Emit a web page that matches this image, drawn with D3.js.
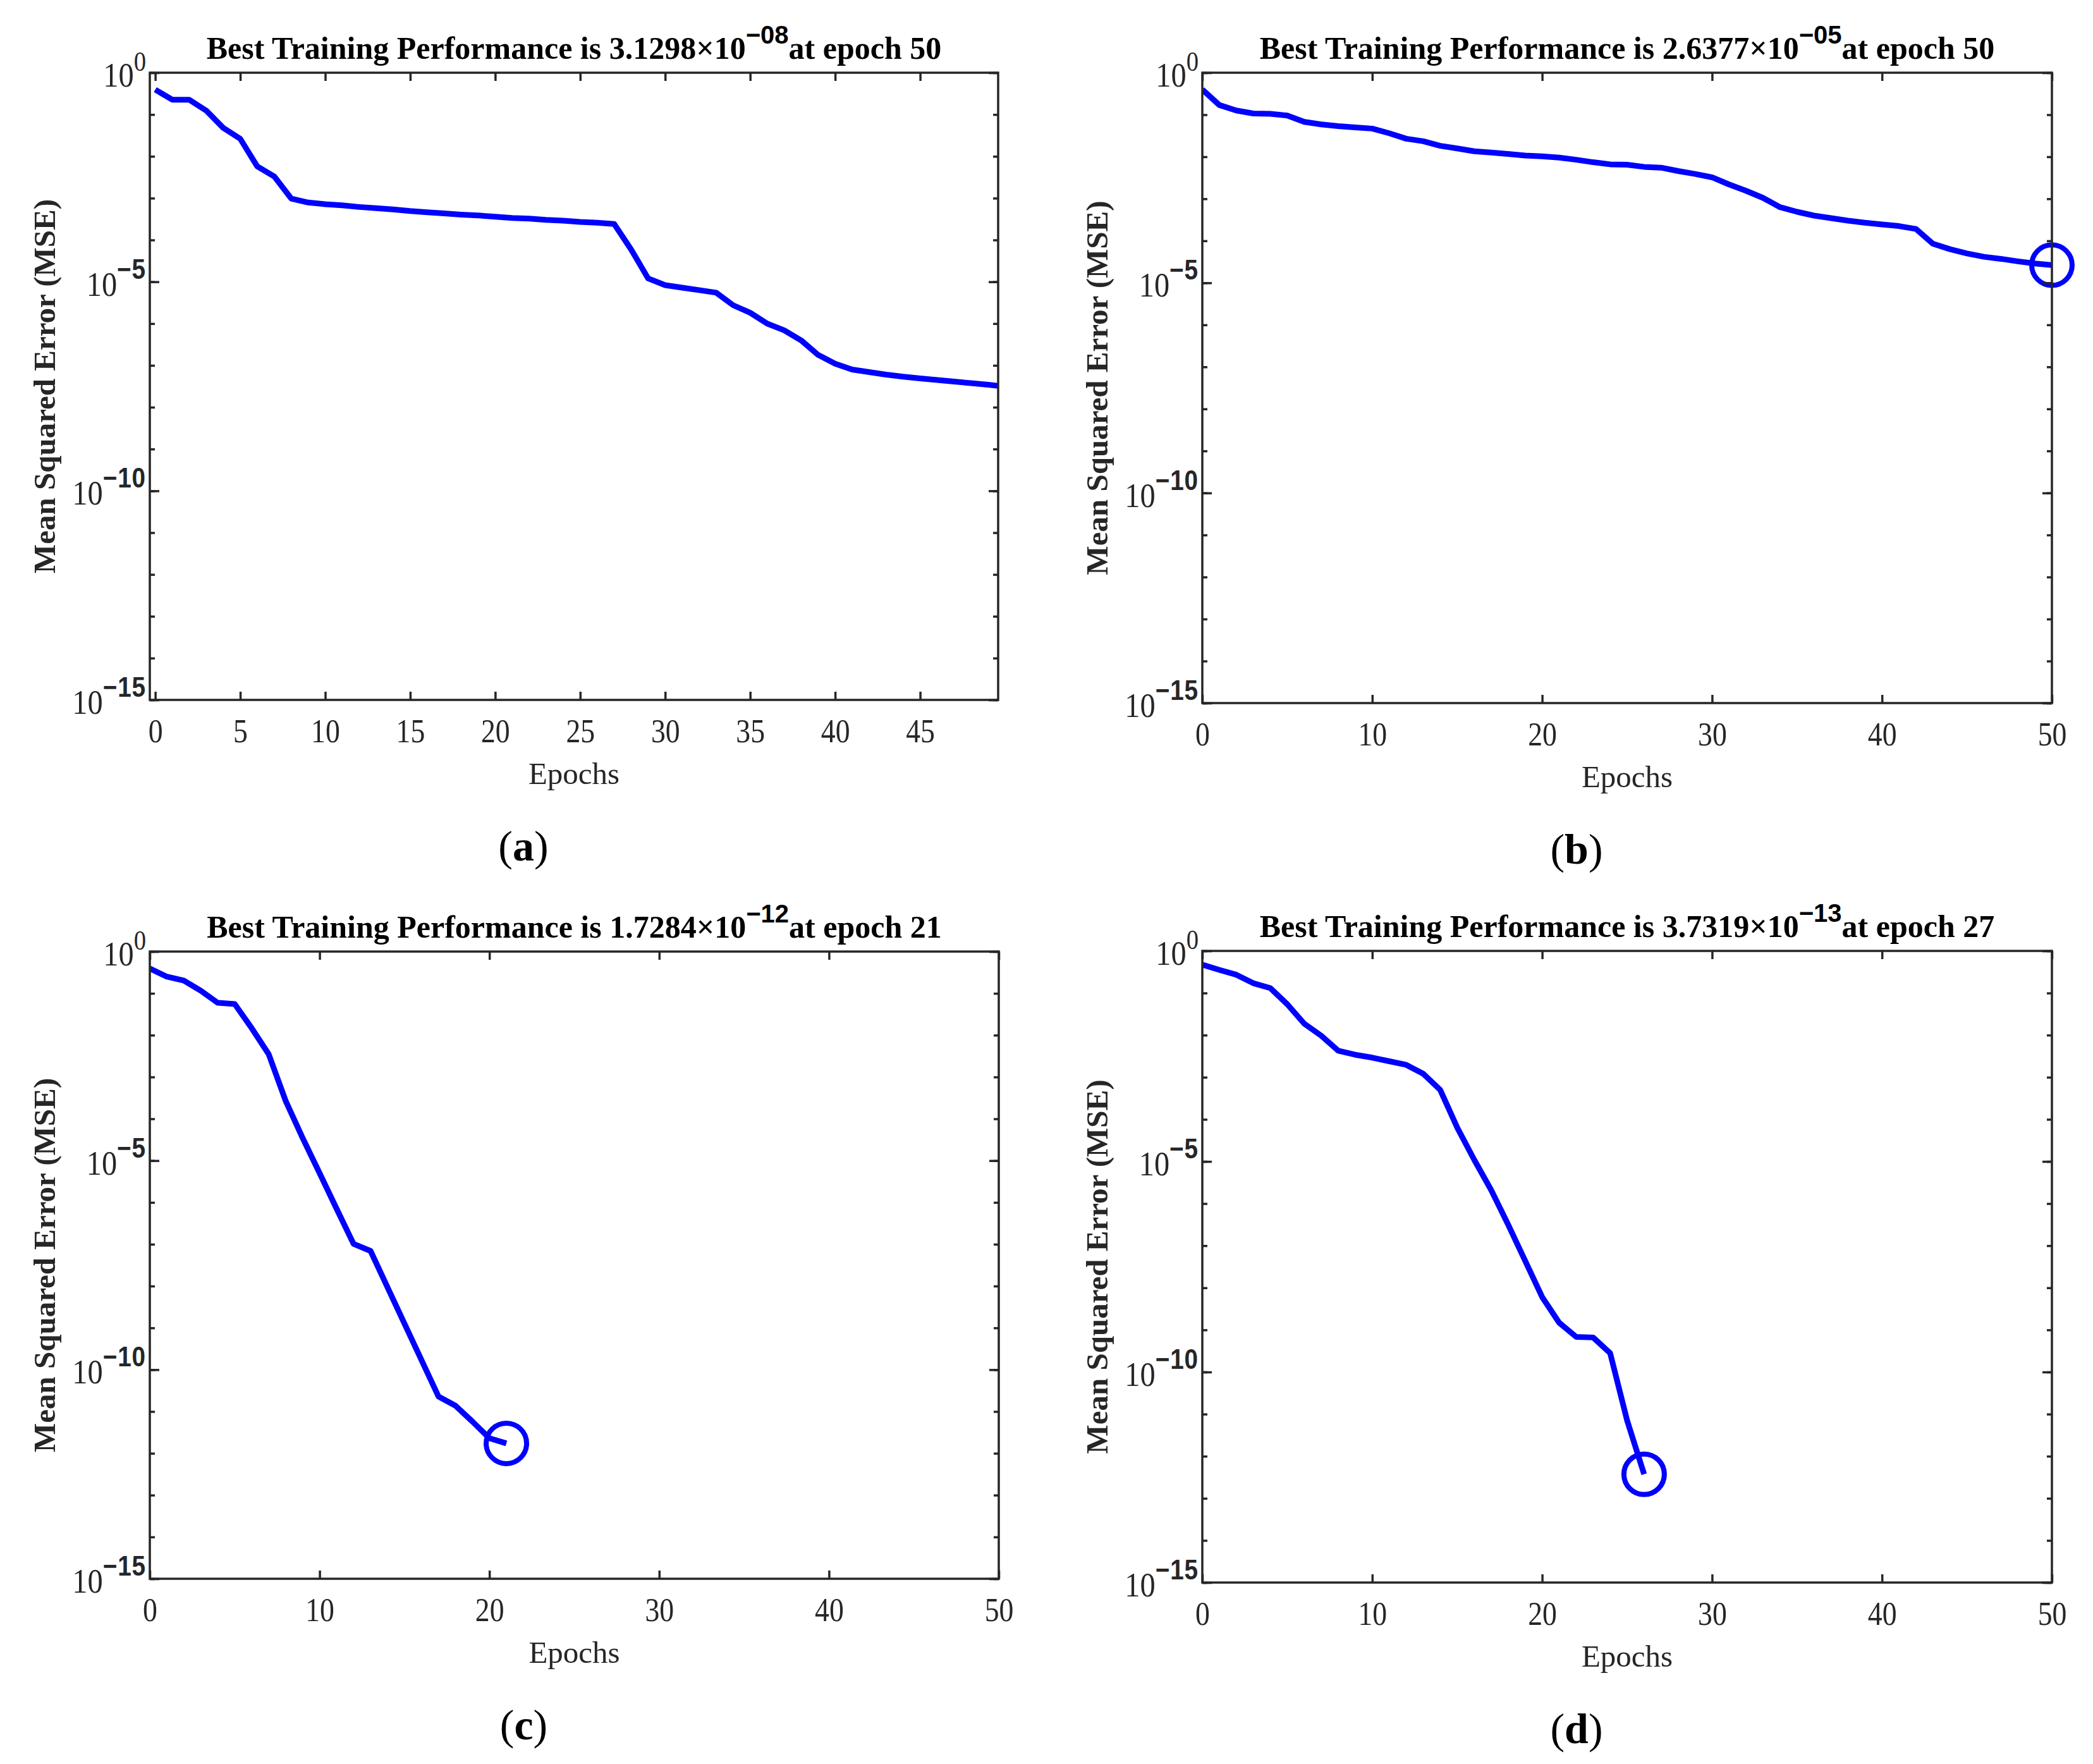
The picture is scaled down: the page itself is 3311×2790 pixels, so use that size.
<!DOCTYPE html>
<html>
<head>
<meta charset="utf-8">
<script src="https://cdn.jsdelivr.net/npm/d3@7"></script>
<style>
  html, body { margin: 0; padding: 0; background: #ffffff; }
  svg { display: block; }
</style>
</head>
<body>
<svg id="fig" width="3311" height="2790"></svg>
<script>
// ---------------- DATA ----------------
const panelLetters = ["a", "b", "c", "d"];
const bestPerf = [3.1298e-8, 2.6377e-5, 1.7284e-12, 3.7319e-13];
const bestEpoch = [50, 50, 21, 27];
const showMarker = [false, true, true, true];

// MSE per epoch (index = epoch)
const mseA = [0.394, 0.226, 0.226, 0.124, 0.0479, 0.0263, 0.00575, 0.00331, 9.77e-4, 7.85e-4,
  7.18e-4, 6.71e-4, 6.15e-4, 5.75e-4, 5.38e-4, 4.92e-4, 4.60e-4, 4.32e-4, 4.04e-4, 3.85e-4,
  3.61e-4, 3.37e-4, 3.23e-4, 3.02e-4, 2.89e-4, 2.70e-4, 2.59e-4, 2.42e-4, 5.89e-5, 1.20e-5,
  8.32e-6, 7.24e-6, 6.31e-6, 5.50e-6, 2.75e-6, 1.82e-6, 1.0e-6, 6.92e-7, 3.98e-7, 1.78e-7,
  1.10e-7, 7.94e-8, 6.92e-8, 6.03e-8, 5.37e-8, 4.90e-8, 4.49e-8, 4.10e-8, 3.76e-8, 3.44e-8,
  3.1298e-8];
const mseB = [0.398, 0.170, 0.126, 0.107, 0.105, 0.0955, 0.0676, 0.0589, 0.0537, 0.0501,
  0.0468, 0.0363, 0.0269, 0.0234, 0.0182, 0.0158, 0.0135, 0.0126, 0.0117, 0.0107,
  0.0102, 0.00955, 0.00851, 0.00741, 0.00661, 0.00646, 0.00575, 0.00550, 0.00457, 0.00389,
  0.00324, 0.00219, 0.00155, 0.00105, 6.31e-4, 4.90e-4, 3.98e-4, 3.47e-4, 3.02e-4, 2.69e-4,
  2.45e-4, 2.24e-4, 1.91e-4, 8.51e-5, 6.31e-5, 5.01e-5, 4.17e-5, 3.72e-5, 3.24e-5, 2.88e-5,
  2.6377e-5];
const mseC = [0.394, 0.251, 0.202, 0.116, 0.0594, 0.0556, 0.0147, 0.00353, 2.69e-4, 3.47e-5,
  5.01e-6, 7.08e-7, 1.02e-7, 6.92e-8, 9.33e-9, 1.26e-9, 1.70e-10, 2.29e-11, 1.38e-11, 5.75e-12,
  2.29e-12, 1.7284e-12];
const mseD = [0.472, 0.355, 0.272, 0.171, 0.131, 0.0541, 0.0187, 0.00966, 0.00427, 0.00342,
  0.00292, 0.00240, 0.00197, 0.00121, 5.01e-4, 6.40e-5, 1.10e-5, 2.09e-6, 3.16e-7, 4.37e-8,
  6.03e-9, 1.48e-9, 6.84e-10, 6.61e-10, 2.82e-10, 7.08e-12, 3.7319e-13];
const series = [mseA, mseB, mseC, mseD];

// axis settings
const xDomains = [[-0.32, 49.59], [0, 50], [0, 50], [0, 50]];
const xTicksA = [0, 5, 10, 15, 20, 25, 30, 35, 40, 45];
const xTicksOther = [0, 10, 20, 30, 40, 50];
const yMajorExp = [0, -5, -10, -15];
const yMinorExp = d3.range(0, -16, -1);

// ---------------- LAYOUT ----------------
const boxes = [
  {l: 237, r: 1579, t: 115, b: 1107},
  {l: 1902, r: 3246, t: 115, b: 1112},
  {l: 237, r: 1580, t: 1505, b: 2497},
  {l: 1902, r: 3246, t: 1504, b: 2503}
];

const axisColor = "#262626";
const lineColor = "#0000ff";
const serif = "'Liberation Serif', 'Times New Roman', serif";
const sans = "'Liberation Sans', Arial, sans-serif";

const svg = d3.select("#fig");

function superMinus(n) {
  return (n < 0 ? "\u2212" : "") + Math.abs(n);
}

boxes.forEach((bx, i) => {
  const data = series[i];
  const x = d3.scaleLinear().domain(xDomains[i]).range([bx.l, bx.r]);
  const y = d3.scaleLog().domain([1e-15, 1]).range([bx.b, bx.t]);
  const g = svg.append("g");
  const xt = i === 0 ? xTicksA : xTicksOther;
  const cx = (bx.l + bx.r) / 2, cy = (bx.t + bx.b) / 2;

  // clip (line only)
  const clipId = "clip" + i;
  svg.append("defs").append("clipPath").attr("id", clipId)
    .append("rect").attr("x", bx.l).attr("y", bx.t)
    .attr("width", bx.r - bx.l).attr("height", bx.b - bx.t);

  // line
  const line = d3.line().x((d, k) => x(k)).y(d => y(d));
  g.append("path").datum(data)
    .attr("clip-path", `url(#${clipId})`)
    .attr("d", line)
    .attr("fill", "none").attr("stroke", lineColor)
    .attr("stroke-width", 9).attr("stroke-linejoin", "round");

  if (showMarker[i]) {
    const last = data.length - 1;
    g.append("circle")
      .attr("cx", x(last)).attr("cy", y(data[last]))
      .attr("r", 32).attr("fill", "none")
      .attr("stroke", lineColor).attr("stroke-width", 8);
  }

  // axes: bottom
  const gx = g.append("g").attr("transform", `translate(0,${bx.b})`)
    .call(d3.axisBottom(x).tickValues(xt).tickSizeInner(-13).tickSizeOuter(0).tickPadding(0).tickFormat(d3.format("d")));
  const gxTop = g.append("g").attr("transform", `translate(0,${bx.t})`)
    .call(d3.axisTop(x).tickValues(xt).tickSizeInner(-13).tickSizeOuter(0).tickFormat(""));
  // left minor + major
  const gyMin = g.append("g").attr("transform", `translate(${bx.l},0)`)
    .call(d3.axisLeft(y).tickValues(yMinorExp.map(e => Math.pow(10, e))).tickSizeInner(-8).tickSizeOuter(0).tickFormat(""));
  const gyMaj = g.append("g").attr("transform", `translate(${bx.l},0)`)
    .call(d3.axisLeft(y).tickValues(yMajorExp.map(e => Math.pow(10, e))).tickSizeInner(-15).tickSizeOuter(0).tickPadding(0).tickFormat(""));
  const gyMinR = g.append("g").attr("transform", `translate(${bx.r},0)`)
    .call(d3.axisRight(y).tickValues(yMinorExp.map(e => Math.pow(10, e))).tickSizeInner(-8).tickSizeOuter(0).tickFormat(""));
  const gyMajR = g.append("g").attr("transform", `translate(${bx.r},0)`)
    .call(d3.axisRight(y).tickValues(yMajorExp.map(e => Math.pow(10, e))).tickSizeInner(-15).tickSizeOuter(0).tickFormat(""));

  [gx, gxTop, gyMin, gyMaj, gyMinR, gyMajR].forEach(a => {
    a.select(".domain").remove();
    a.selectAll(".tick line").attr("stroke", axisColor).attr("stroke-width", 3.5);
  });

  // x tick labels (condensed Times)
  gx.selectAll(".tick text")
    .attr("y", 0).attr("dy", null)
    .attr("transform", "translate(0,67) scale(0.88,1)")
    .attr("font-family", serif).attr("font-size", 52)
    .attr("fill", axisColor);

  // y tick labels with superscripts
  yMajorExp.forEach(e => {
    const yy = y(Math.pow(10, e));
    const t = g.append("text")
      .attr("transform", `translate(${bx.l - 6},${yy + 22}) scale(0.88,1)`)
      .attr("text-anchor", "end")
      .attr("fill", axisColor);
    t.append("tspan").attr("font-family", serif).attr("font-size", 55).text("10");
    if (e === 0) {
      t.append("tspan").attr("font-family", serif).attr("font-size", 44)
        .attr("dy", -25).text("0");
    } else {
      t.append("tspan").attr("font-family", sans).attr("font-weight", "bold")
        .attr("font-size", 44).attr("dy", -27).attr("letter-spacing", 1)
        .text(superMinus(e));
    }
  });

  // frame
  g.append("rect").attr("x", bx.l).attr("y", bx.t)
    .attr("width", bx.r - bx.l).attr("height", bx.b - bx.t)
    .attr("fill", "none").attr("stroke", axisColor).attr("stroke-width", 3.5);

  // title
  const v = bestPerf[i];
  const ex = Math.floor(Math.log10(v));
  const mant = (v / Math.pow(10, ex)).toFixed(4);
  const exStr = (ex < 0 ? "\u2212" : "") + String(Math.abs(ex)).padStart(2, "0");
  const title = g.append("text")
    .attr("x", cx).attr("y", bx.t - 22)
    .attr("text-anchor", "middle").attr("fill", "#000000")
    .attr("font-family", serif).attr("font-weight", "bold").attr("font-size", 50);
  title.append("tspan").text(`Best Training Performance is ${mant}\u00d710`);
  title.append("tspan").attr("font-family", sans).attr("font-size", 40)
    .attr("dy", -24).text(exStr);
  title.append("tspan").attr("dy", 24).text(`at epoch ${bestEpoch[i]}`);

  // y label
  g.append("text")
    .attr("transform", `translate(${bx.l - 167},${cy}) rotate(-90)`)
    .attr("text-anchor", "middle").attr("dominant-baseline", "central")
    .attr("font-family", serif).attr("font-weight", "bold").attr("font-size", 49)
    .attr("fill", axisColor)
    .text("Mean Squared Error (MSE)");

  // x label
  g.append("text")
    .attr("x", cx).attr("y", bx.b + 133)
    .attr("text-anchor", "middle")
    .attr("font-family", serif).attr("font-size", 49)
    .attr("fill", axisColor)
    .text("Epochs");

  // sub-figure label
  const sl = g.append("text")
    .attr("x", cx - 80).attr("y", bx.b + 254)
    .attr("text-anchor", "middle")
    .attr("font-family", serif).attr("font-size", 68).attr("fill", "#000000");
  sl.append("tspan").text("(");
  sl.append("tspan").attr("font-weight", "bold").text(panelLetters[i]);
  sl.append("tspan").text(")");
});
</script>
</body>
</html>
